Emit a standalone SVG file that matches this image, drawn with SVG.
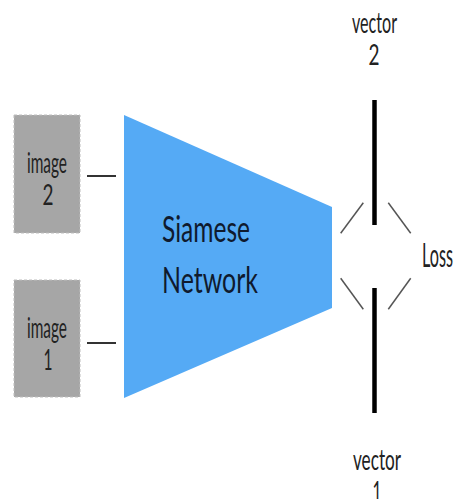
<svg xmlns="http://www.w3.org/2000/svg" width="460" height="499" viewBox="0 0 460 499">
  <style>
    text { font-family: Lato, "Liberation Sans", sans-serif; }
    .box { fill: #a6a6a6; stroke: #bdbdbd; stroke-width: 1; stroke-dasharray: 3 2; }
    .boxlabel { fill: #222222; font-size: 28px; text-anchor: middle; }
    .net { fill: #55aaf5; }
    .netlabel { fill: #0f1a2e; font-size: 37px; }
    .label { fill: #222222; font-size: 28px; text-anchor: middle; }
    .feed { stroke: #333333; stroke-width: 2; }
    .vec { stroke: #000000; stroke-width: 4.5; }
    .diag { stroke: #555555; stroke-width: 1.5; }
  </style>
  <rect width="460" height="499" fill="#ffffff"/>

  <g id="image2">
    <rect class="box" x="14" y="115" width="66" height="118"/>
    <text class="boxlabel" x="47" y="173" textLength="40" lengthAdjust="spacingAndGlyphs">image</text>
    <text class="boxlabel" x="48" y="205" textLength="11" lengthAdjust="spacingAndGlyphs">2</text>
  </g>

  <g id="image1">
    <rect class="box" x="14" y="280" width="66" height="117"/>
    <text class="boxlabel" x="47" y="338" textLength="40" lengthAdjust="spacingAndGlyphs">image</text>
    <text class="boxlabel" x="48" y="370" textLength="9" lengthAdjust="spacingAndGlyphs">1</text>
  </g>

  <g id="siamese-network">
    <polygon class="net" points="124,115 332,207 332,308 124,398"/>
    <text class="netlabel" x="162" y="242" textLength="88" lengthAdjust="spacingAndGlyphs">Siamese</text>
    <text class="netlabel" x="162" y="293" textLength="96" lengthAdjust="spacingAndGlyphs">Network</text>
  </g>

  <g id="vector2">
    <line class="vec" x1="374.5" y1="100" x2="374.5" y2="225"/>
    <text class="label" x="374.5" y="33" textLength="45" lengthAdjust="spacingAndGlyphs">vector</text>
    <text class="label" x="374" y="65" textLength="11" lengthAdjust="spacingAndGlyphs">2</text>
  </g>

  <g id="vector1">
    <line class="vec" x1="374.5" y1="288" x2="374.5" y2="413"/>
    <text class="label" x="377" y="470" textLength="48" lengthAdjust="spacingAndGlyphs">vector</text>
    <text class="label" x="377" y="502" textLength="9" lengthAdjust="spacingAndGlyphs">1</text>
  </g>

  <g id="loss">
    <text x="422" y="267" font-size="32" fill="#222222" textLength="31" lengthAdjust="spacingAndGlyphs">Loss</text>
  </g>

  <g id="connectors">
    <line class="feed" x1="87" y1="176" x2="116" y2="176"/>
    <line class="feed" x1="87" y1="343" x2="116" y2="343"/>
    <line class="diag" x1="340.7" y1="233.3" x2="363.3" y2="202.7"/>
    <line class="diag" x1="388.3" y1="202.7" x2="410.7" y2="233.3"/>
    <line class="diag" x1="340.7" y1="278.3" x2="363.3" y2="309.3"/>
    <line class="diag" x1="388.3" y1="309.3" x2="410.7" y2="278.3"/>
  </g>
</svg>
